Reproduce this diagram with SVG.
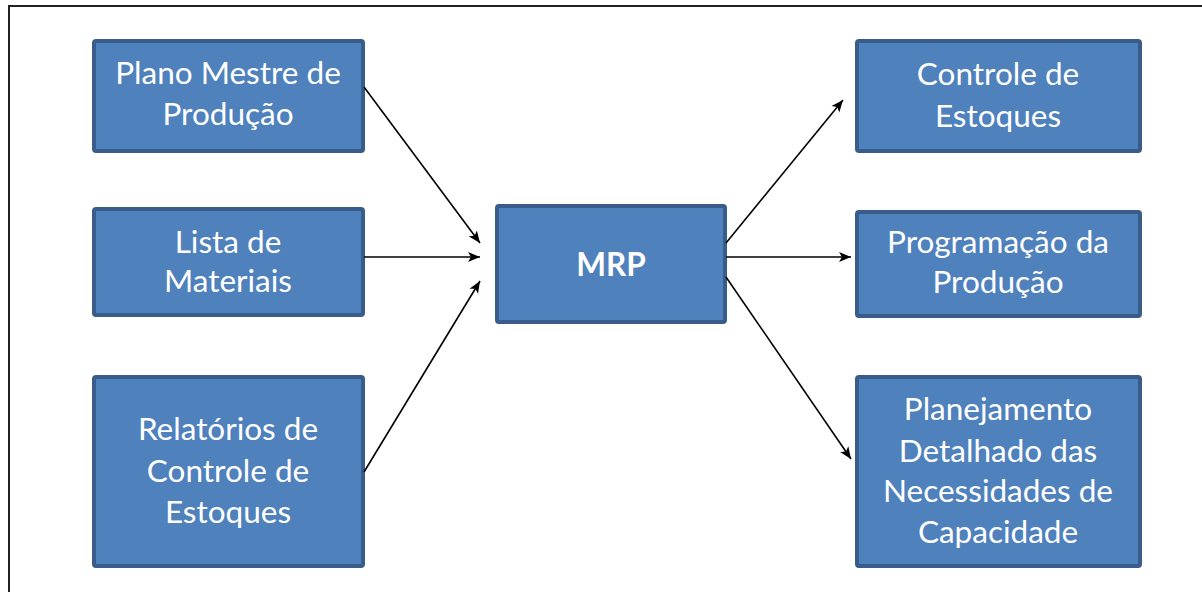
<svg xmlns="http://www.w3.org/2000/svg" width="1202" height="592" viewBox="0 0 1202 592">
  <style>
    .box { fill: #4F81BD; stroke: #385D8A; stroke-width: 4; }
    .lbl { fill: #FFFFFF; font-family: Lato, "Open Sans", sans-serif; font-size: 31.5px; text-anchor: middle; }
    .bold { font-weight: bold; }
    .edge { stroke: #000000; stroke-width: 1.6; fill: none; marker-end: url(#arrow); }
  </style>
  <defs>
    <marker id="arrow" markerWidth="13" markerHeight="11" refX="12" refY="5.5" orient="auto" markerUnits="userSpaceOnUse">
      <path d="M0,0.5 L12,5.5 L0,10.5 L3,5.5 Z" fill="#000000"/>
    </marker>
  </defs>

  <rect width="1202" height="592" fill="#FFFFFF"/>
  <!-- page frame -->
  <path d="M9,600 L9,6 L1210,6" fill="none" stroke="#222222" stroke-width="2"/>

  <g id="plano-mestre">
    <rect class="box" x="94" y="41" width="269" height="110" rx="2"/>
    <text class="lbl" x="228" y="84">Plano Mestre de</text>
    <text class="lbl" x="228" y="125">Produção</text>
  </g>

  <g id="lista-materiais">
    <rect class="box" x="94" y="209" width="269" height="106" rx="2"/>
    <text class="lbl" x="228" y="253">Lista de</text>
    <text class="lbl" x="228" y="292">Materiais</text>
  </g>

  <g id="relatorios">
    <rect class="box" x="94" y="377" width="269" height="189" rx="2"/>
    <text class="lbl" x="228" y="440">Relatórios de</text>
    <text class="lbl" x="228" y="482">Controle de</text>
    <text class="lbl" x="228" y="523">Estoques</text>
  </g>

  <g id="mrp">
    <rect class="box" x="497" y="206" width="228" height="116" rx="2"/>
    <text class="lbl bold" x="611" y="276">MRP</text>
  </g>

  <g id="controle-estoques">
    <rect class="box" x="857" y="41" width="283" height="110" rx="2"/>
    <text class="lbl" x="998" y="85">Controle de</text>
    <text class="lbl" x="998" y="127">Estoques</text>
  </g>

  <g id="programacao">
    <rect class="box" x="857" y="212" width="283" height="104" rx="2"/>
    <text class="lbl" x="998" y="253">Programação da</text>
    <text class="lbl" x="998" y="293">Produção</text>
  </g>

  <g id="planejamento">
    <rect class="box" x="857" y="377" width="283" height="189" rx="2"/>
    <text class="lbl" x="998" y="420">Planejamento</text>
    <text class="lbl" x="998" y="462">Detalhado das</text>
    <text class="lbl" x="998" y="502">Necessidades de</text>
    <text class="lbl" x="998" y="543">Capacidade</text>
  </g>

  <g id="connectors">
    <line class="edge" x1="364" y1="87" x2="480" y2="243"/>
    <line class="edge" x1="364" y1="257" x2="480" y2="257"/>
    <line class="edge" x1="364" y1="472" x2="480" y2="281"/>
    <line class="edge" x1="726" y1="243" x2="843" y2="100"/>
    <line class="edge" x1="726" y1="257" x2="851" y2="257"/>
    <line class="edge" x1="726" y1="277" x2="851" y2="459"/>
  </g>
</svg>
